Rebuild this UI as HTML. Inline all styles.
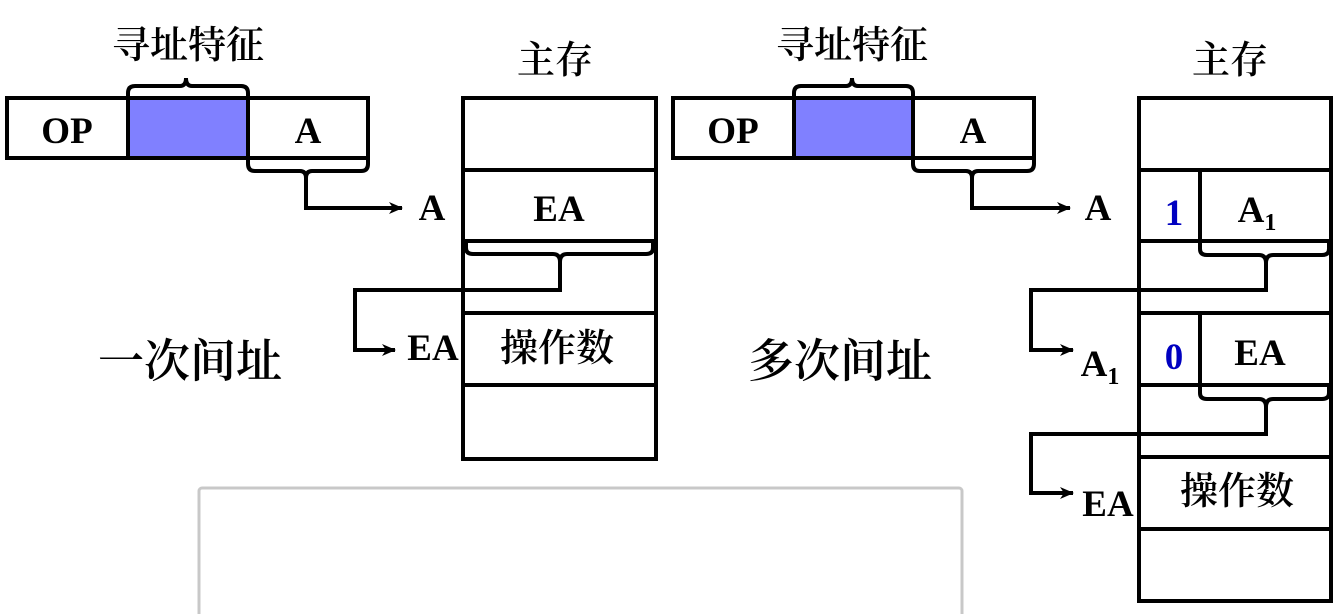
<!DOCTYPE html>
<html><head><meta charset="utf-8"><style>
html,body{margin:0;padding:0;background:#fff;width:1343px;height:614px;overflow:hidden}
svg{display:block}
.t{font-family:"Liberation Serif","Noto Serif CJK SC",serif;font-weight:bold;font-size:37px;fill:#000;text-anchor:middle}
.c{font-family:"Liberation Serif","Noto Serif CJK SC",serif;font-weight:600;fill:#000;text-anchor:middle}
.b{font-family:"Liberation Serif",serif;font-weight:bold;font-size:37px;fill:#0000c0;text-anchor:middle}
</style></head><body>
<svg width="1343" height="614" viewBox="0 0 1343 614" xmlns="http://www.w3.org/2000/svg">
<defs><marker id="ar" markerWidth="14" markerHeight="12" refX="13" refY="6" orient="auto" markerUnits="userSpaceOnUse"><path d="M0,0 L14,6 L0,12 L4,6 z" fill="#000"/></marker></defs>
<g fill="none" stroke="#000" stroke-width="4">
<rect x="7" y="98" width="361" height="60" fill="#fff"/>
<rect x="128" y="98" width="120" height="60" fill="#8080ff"/>
<line x1="248" y1="98" x2="248" y2="158"/>
<path d="M128,98 V93 Q128,86 135,86 H180 Q186,86 186,78 Q186,86 192,86 H241 Q248,86 248,93 V98"/>
<path d="M248,158 V164 Q248,171 255,171 H300 Q306,171 306,178 Q306,171 312,171 H361 Q368,171 368,164 V158"/>
<path d="M306,178 V208 H402" marker-end="url(#ar)"/>
<rect x="463" y="98" width="193" height="361"/>
<line x1="463" y1="170" x2="656" y2="170"/>
<line x1="463" y1="241" x2="656" y2="241"/>
<line x1="463" y1="313" x2="656" y2="313"/>
<line x1="463" y1="385" x2="656" y2="385"/>
<path d="M466,241 V248 Q466,254 473,254 H553 Q560,254 560,262 Q560,254 567,254 H646 Q653,254 653,248 V241"/>
<path d="M560,262 V290 H355 V350 H395" marker-end="url(#ar)"/>
<rect x="673" y="98" width="361" height="60" fill="#fff"/>
<rect x="794" y="98" width="119" height="60" fill="#8080ff"/>
<line x1="913" y1="98" x2="913" y2="158"/>
<path d="M794,98 V93 Q794,86 801,86 H846 Q852,86 852,78 Q852,86 858,86 H906 Q913,86 913,93 V98"/>
<path d="M913,158 V164 Q913,171 920,171 H966 Q972,171 972,178 Q972,171 978,171 H1027 Q1034,171 1034,164 V158"/>
<path d="M972,178 V208 H1070" marker-end="url(#ar)"/>
<rect x="1139" y="98" width="192" height="503"/>
<line x1="1139" y1="170" x2="1331" y2="170"/>
<line x1="1139" y1="241" x2="1331" y2="241"/>
<line x1="1139" y1="313" x2="1331" y2="313"/>
<line x1="1139" y1="385" x2="1331" y2="385"/>
<line x1="1139" y1="457" x2="1331" y2="457"/>
<line x1="1139" y1="529" x2="1331" y2="529"/>
<line x1="1200" y1="170" x2="1200" y2="241"/>
<line x1="1200" y1="313" x2="1200" y2="385"/>
<path d="M1200,241 V249 Q1200,255 1207,255 H1259 Q1266,255 1266,263 Q1266,255 1273,255 H1322 Q1329,255 1329,249 V241"/>
<path d="M1266,263 V290 H1031 V350 H1073" marker-end="url(#ar)"/>
<path d="M1200,385 V393 Q1200,399 1207,399 H1259 Q1266,399 1266,407 Q1266,399 1273,399 H1322 Q1329,399 1329,393 V385"/>
<path d="M1266,407 V434 H1031 V493 H1073" marker-end="url(#ar)"/>
</g>
<rect x="199" y="488" width="763" height="140" rx="3" fill="#fff" stroke="#c8c8c8" stroke-width="3"/>
<text class="c" x="188" y="58" font-size="38">寻址特征</text>
<text class="c" x="555" y="73" font-size="38">主存</text>
<text class="t" x="67" y="143">OP</text>
<text class="t" x="308" y="143">A</text>
<text class="t" x="432" y="220">A</text>
<text class="t" x="559" y="221">EA</text>
<text class="t" x="433" y="360">EA</text>
<text class="c" x="557" y="361" font-size="38">操作数</text>
<text class="c" x="190" y="377" font-size="46">一次间址</text>
<text class="c" x="852" y="58" font-size="38">寻址特征</text>
<text class="c" x="1230" y="73" font-size="38">主存</text>
<text class="t" x="733" y="143">OP</text>
<text class="t" x="973" y="143">A</text>
<text class="t" x="1098" y="220">A</text>
<text class="b" x="1174" y="225">1</text>
<text class="t" x="1257" y="222">A<tspan font-size="24" dy="8">1</tspan></text>
<text class="t" x="1100" y="376">A<tspan font-size="24" dy="8">1</tspan></text>
<text class="b" x="1174" y="369">0</text>
<text class="t" x="1260" y="365">EA</text>
<text class="t" x="1108" y="516">EA</text>
<text class="c" x="1237" y="504" font-size="38">操作数</text>
<text class="c" x="840" y="377" font-size="46">多次间址</text>
</svg>
</body></html>
